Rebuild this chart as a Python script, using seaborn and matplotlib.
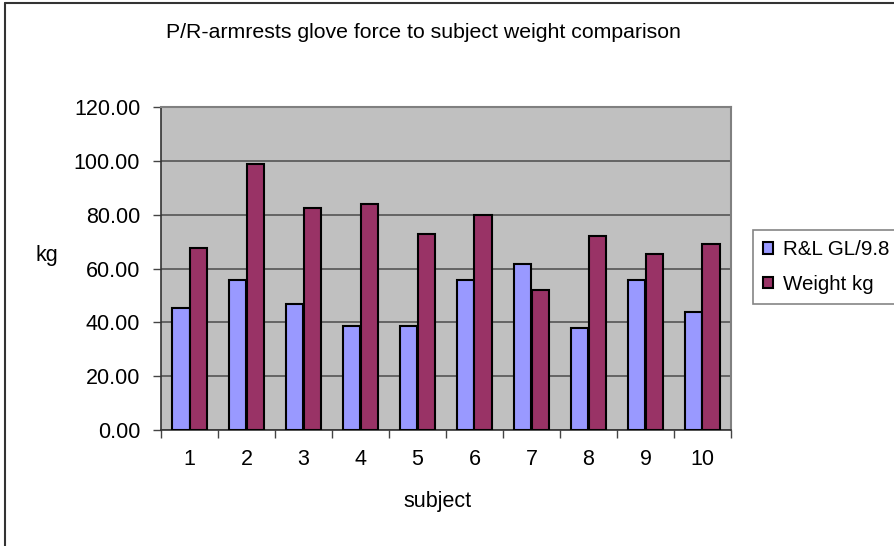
import pandas as pd
import matplotlib
matplotlib.use("Agg")
import matplotlib.pyplot as plt
from matplotlib.lines import Line2D
from matplotlib.patches import Patch
import seaborn as sns

subjects = [str(i) for i in range(1, 11)]
glove_force = [45.5, 55.8, 47.0, 38.7, 38.7, 55.8, 61.8, 38.0, 55.8, 44.0]
weight = [67.8, 99.1, 82.6, 84.1, 73.0, 79.8, 52.2, 72.2, 65.6, 69.3]
series_names = ["R&L GL/9.8", "Weight kg"]
y_ticks = [0, 20, 40, 60, 80, 100, 120]

df = pd.DataFrame({
    "subject": subjects * 2,
    "value": glove_force + weight,
    "series": [series_names[0]] * 10 + [series_names[1]] * 10,
})

sns.set_style("white")
plt.rcParams["font.family"] = ["Liberation Sans", "DejaVu Sans"]
plt.rcParams["text.color"] = "black"
plt.rcParams["xtick.color"] = "black"
plt.rcParams["ytick.color"] = "black"
fs = 15.5

fig = plt.figure(figsize=(8.94, 5.46), dpi=100)
ax = fig.add_axes([161 / 894, 1 - 430 / 546, 570 / 894, 322.7 / 546])
ax.set_facecolor("#C0C0C0")

palette = {series_names[0]: "#9999FF", series_names[1]: "#993366"}
sns.barplot(data=df, x="subject", y="value", hue="series", order=subjects,
            palette=palette, width=0.6, edgecolor="black", linewidth=1.5,
            saturation=1, legend=False, ax=ax, zorder=3)

ax.set_ylim(0, 120)
ax.set_xlim(-0.5, 9.5)
ax.set_yticks(y_ticks)
ax.set_yticklabels([f"{v:.2f}" for v in y_ticks])
ax.yaxis.grid(True, color="#555555", linewidth=1.2, zorder=0)
ax.set_axisbelow(True)

ax.set_xticks(range(10))
ax.set_xticklabels(subjects)
ax.set_xticks([i - 0.5 for i in range(11)], minor=True)
ax.tick_params(axis="x", which="major", length=0, pad=14, labelsize=fs,
               labelcolor="black")
ax.tick_params(axis="x", which="minor", length=6, width=1, color="#444444",
               direction="out", bottom=True)
ax.tick_params(axis="y", length=6, width=1, color="#444444", direction="out",
               left=True, pad=9, labelsize=fs, labelcolor="black")

for side in ["top", "right"]:
    ax.spines[side].set_color("#808080")
    ax.spines[side].set_linewidth(1.5)
for side in ["left", "bottom"]:
    ax.spines[side].set_color("#333333")
    ax.spines[side].set_linewidth(1.2)

ax.set_xlabel("")
ax.set_ylabel("")
fig.text(423 / 894, 1 - 33 / 546, "P/R-armrests glove force to subject weight comparison",
         ha="center", va="center", fontsize=15.3, color="black")
fig.text(47 / 894, 1 - 255 / 546, "kg", ha="center", va="center", fontsize=fs, color="black")
fig.text(438 / 894, 1 - 502 / 546, "subject", ha="center", va="center", fontsize=fs,
         color="black")

handles = [Patch(facecolor=palette[n], edgecolor="black", linewidth=1.5, label=n)
           for n in series_names]
leg = fig.legend(handles=handles, loc="upper left",
                 bbox_to_anchor=(752.7 / 894, 1 - 230 / 546), frameon=True,
                 fancybox=False, edgecolor="#666666", fontsize=14.8,
                 handlelength=0.5, handleheight=0.5, handletextpad=0.45,
                 labelspacing=0.75, borderpad=0.5, borderaxespad=0)
leg.get_frame().set_linewidth(1.2)
for t in leg.get_texts():
    t.set_color("black")

# chart area border
fig.add_artist(Line2D([5 / 894, 5 / 894], [0, 1 - 3 / 546], color="#333333", linewidth=1.5))
fig.add_artist(Line2D([5 / 894, 1], [1 - 3 / 546, 1 - 3 / 546], color="#333333", linewidth=1.5))

fig.savefig("out.png", dpi=100)
